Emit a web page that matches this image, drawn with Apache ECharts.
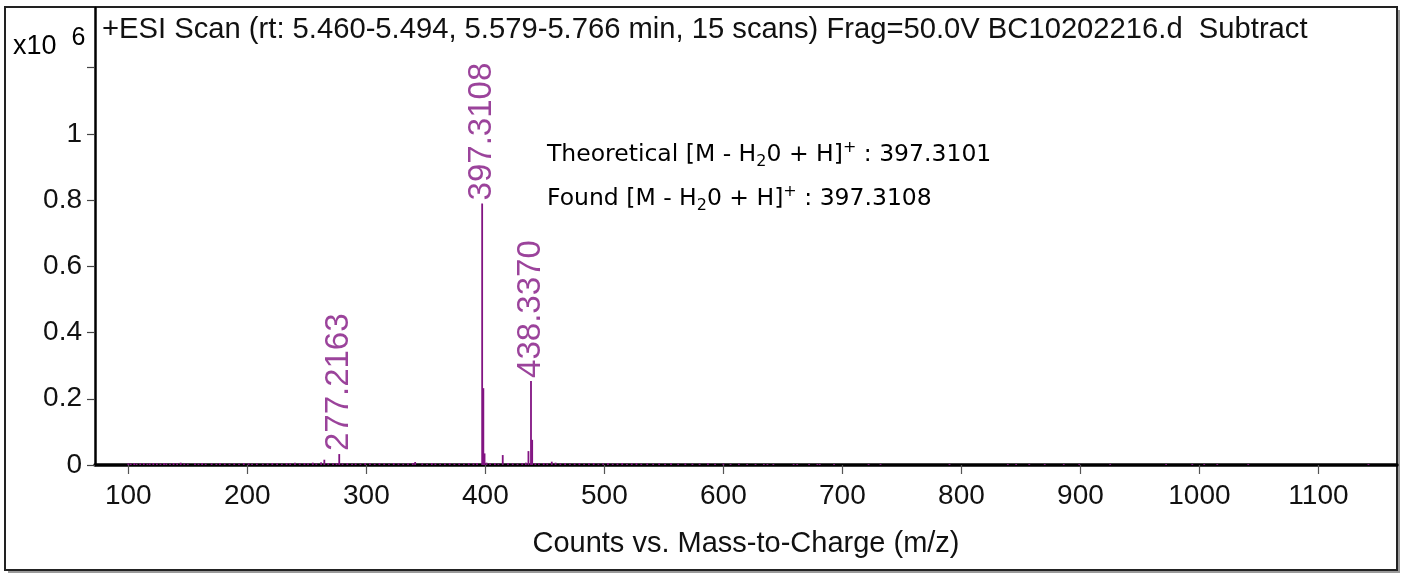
<!DOCTYPE html>
<html><head><meta charset="utf-8">
<script src="https://cdn.jsdelivr.net/npm/echarts@6/dist/echarts.min.js"></script>
<style>html,body{margin:0;padding:0;background:#fff}#c{width:1403px;height:574px}</style>
</head><body><div id="c"></div>
<script>
// Intensities in units of 10^6 counts
const titleText = '+ESI Scan (rt: 5.460-5.494, 5.579-5.766 min, 15 scans) Frag=50.0V BC10202216.d  Subtract';
const xAxisName = 'Counts vs. Mass-to-Charge (m/z)';
const xTickValues = [100, 200, 300, 400, 500, 600, 700, 800, 900, 1000, 1100];
const yTickValues = [0, 0.2, 0.4, 0.6, 0.8, 1, 1.2];
const yTickLabels = ['0', '0.2', '0.4', '0.6', '0.8', '1', ''];

const peakMz  = [264.7, 277.22, 397.31, 398.31, 399.32, 414.6, 436.2, 438.34, 439.34, 455.8];
const peakInt = [0.016, 0.033, 0.79, 0.232, 0.035, 0.030, 0.042, 0.254, 0.076, 0.010];

const labelMz   = [277.2163, 397.3108, 438.3370];
const labelInt  = [0.033, 0.79, 0.254];
const labelText = ['277.2163', '397.3108', '438.3370'];

const noisePeaks = [
[100,0.005],[102,0.004],[105,0.006],[107,0.004],[110,0.005],[113,0.006],[116,0.004],[118,0.005],[121,0.006],[124,0.005],
[127,0.004],[130,0.006],[132,0.005],[135,0.004],[138,0.006],[141,0.005],[144,0.007],[147,0.005],[150,0.004],[156,0.005],
[159,0.004],[162,0.006],[165,0.004],[170,0.005],[174,0.004],[177,0.006],[181,0.005],[185,0.004],[189,0.005],[193,0.004],
[197,0.006],[201,0.005],[204,0.004],[208,0.005],[213,0.004],[217,0.005],[221,0.006],[225,0.005],[229,0.004],[233,0.006],
[236,0.005],[240,0.007],[244,0.005],[248,0.006],[251,0.005],[255,0.007],[258,0.005],[262,0.008],[268,0.006],[272,0.005],
[275,0.006],[280,0.005],[284,0.006],[288,0.004],[291,0.005],[295,0.004],[299,0.006],[303,0.005],[307,0.004],[311,0.006],
[315,0.005],[319,0.004],[323,0.006],[327,0.005],[331,0.004],[335,0.005],[339,0.006],[341,0.009],[347,0.005],[351,0.004],
[355,0.006],[358,0.005],[362,0.004],[366,0.005],[370,0.006],[374,0.004],[378,0.005],[382,0.004],[386,0.006],[390,0.005],
[393,0.006],[401,0.007],[404,0.005],[408,0.006],[411,0.004],[419,0.006],[423,0.005],[427,0.004],[431,0.006],[434,0.007],
[442,0.006],[445,0.005],[449,0.006],[452,0.005],[459,0.007],[463,0.005],[467,0.006],[471,0.004],[475,0.005],[479,0.006],
[483,0.004],[487,0.005],[491,0.006],[495,0.004],[499,0.005],[503,0.006],[507,0.004],[511,0.005],[515,0.006],[519,0.004],
[523,0.005],[527,0.006],[531,0.004],[536,0.005],[541,0.004],[546,0.005],[551,0.004],[556,0.005],[562,0.004],[568,0.005],
[574,0.004],[580,0.004],[587,0.005],[593,0.004],[600,0.004],[606,0.003],[613,0.004],[620,0.003],[627,0.003],[634,0.003],
[637,0.003],[642,0.003],[659,0.003],[662,0.003],[672,0.003],[679,0.003],[681,0.003],[693,0.003],[722,0.003],[732,0.003],
[790,0.003],[839,0.003],[846,0.003],[857,0.003],[870,0.003],[886,0.003],[899,0.003],[925,0.003],[972,0.003],[994,0.003],
[1004,0.003],[1015,0.003],[1041,0.003],[1142,0.003]
];

const PURPLE = '#821482';
const stickData = noisePeaks.concat(peakMz.map((m, i) => [m, peakInt[i]]));
const labelData = labelMz.map((m, i) => ({ value: [m, labelInt[i]], name: labelText[i] }));

const chart = echarts.init(document.getElementById('c'), null, { renderer: 'canvas' });
const ann = {
  a: { fontFamily: 'DejaVu Sans', fontSize: 23.5, color: '#111', lineHeight: 30 },
  sb: { fontFamily: 'DejaVu Sans', fontSize: 16, color: '#111', verticalAlign: 'bottom', lineHeight: 16 },
  sp: { fontFamily: 'DejaVu Sans', fontSize: 16, color: '#111', verticalAlign: 'top', lineHeight: 16 }
};
chart.setOption({
  animation: false,
  backgroundColor: '#fff',
  grid: { left: 95, top: 8, right: 6, bottom: 109, containLabel: false },
  graphic: [
    { type: 'rect', z: -2, silent: true, shape: { x: 8, y: 10, width: 1392, height: 563 }, style: { fill: '#9a9a9a' } },
    { type: 'rect', z: -1, silent: true, shape: { x: 5, y: 7, width: 1392, height: 563 }, style: { fill: '#fff', stroke: '#222', lineWidth: 2 } },
    { type: 'text', left: 102, top: 15, z: 10, style: { text: titleText, fontFamily: 'Liberation Sans', fontSize: 29.2, fill: '#111' } },
    { type: 'text', left: 13, top: 26, z: 10, style: { text: '{a|x10  }{b|6}', rich: {
        a: { fontFamily: 'Liberation Sans', fontSize: 27, color: '#111', lineHeight: 34, verticalAlign: 'bottom' },
        b: { fontFamily: 'Liberation Sans', fontSize: 25, color: '#111', lineHeight: 26, verticalAlign: 'top' } } } },
    { type: 'text', left: 547, top: 140, z: 10, style: { text: '{a|Theoretical [M - H}{sb|2}{a|0 + H]}{sp|+}{a| : 397.3101}', rich: ann } },
    { type: 'text', left: 547, top: 184, z: 10, style: { text: '{a|Found [M - H}{sb|2}{a|0 + H]}{sp|+}{a| : 397.3108}', rich: ann } }
  ],
  xAxis: {
    type: 'value', min: 72, max: 1166,
    name: xAxisName, nameLocation: 'middle', nameGap: 64,
    nameTextStyle: { fontFamily: 'Liberation Sans', fontSize: 29, color: '#111' },
    axisLine: { show: true, onZero: false, lineStyle: { color: '#000', width: 3.5 } },
    axisTick: { show: true, length: 9, customValues: xTickValues, lineStyle: { color: '#555', width: 1.2 } },
    axisLabel: { customValues: xTickValues, formatter: v => String(Math.round(v)), fontFamily: 'Liberation Sans', fontSize: 28, color: '#111', margin: 17 },
    splitLine: { show: false }
  },
  yAxis: {
    type: 'value', min: 0, max: 1.38,
    axisLine: { show: true, lineStyle: { color: '#000', width: 2.5 } },
    axisTick: { show: true, length: 8, customValues: yTickValues, lineStyle: { color: '#444', width: 1.2 } },
    axisLabel: { customValues: yTickValues, fontFamily: 'Liberation Sans', fontSize: 28, color: '#111', margin: 13,
      formatter: v => { const i = yTickValues.findIndex(t => Math.abs(t - v) < 1e-6); return i >= 0 ? yTickLabels[i] : ''; } },
    splitLine: { show: false }
  },
  series: [
    { type: 'bar', data: stickData, barWidth: 1.8, itemStyle: { color: PURPLE }, silent: true, z: 3 },
    { type: 'scatter', data: labelData, symbolSize: 0, silent: true, z: 4,
      label: { show: true, formatter: p => p.name, rotate: 90, position: 'top', distance: 3,
        align: 'left', verticalAlign: 'middle', fontFamily: 'Liberation Sans', fontSize: 33, color: PURPLE } }
  ]
});
</script></body></html>
